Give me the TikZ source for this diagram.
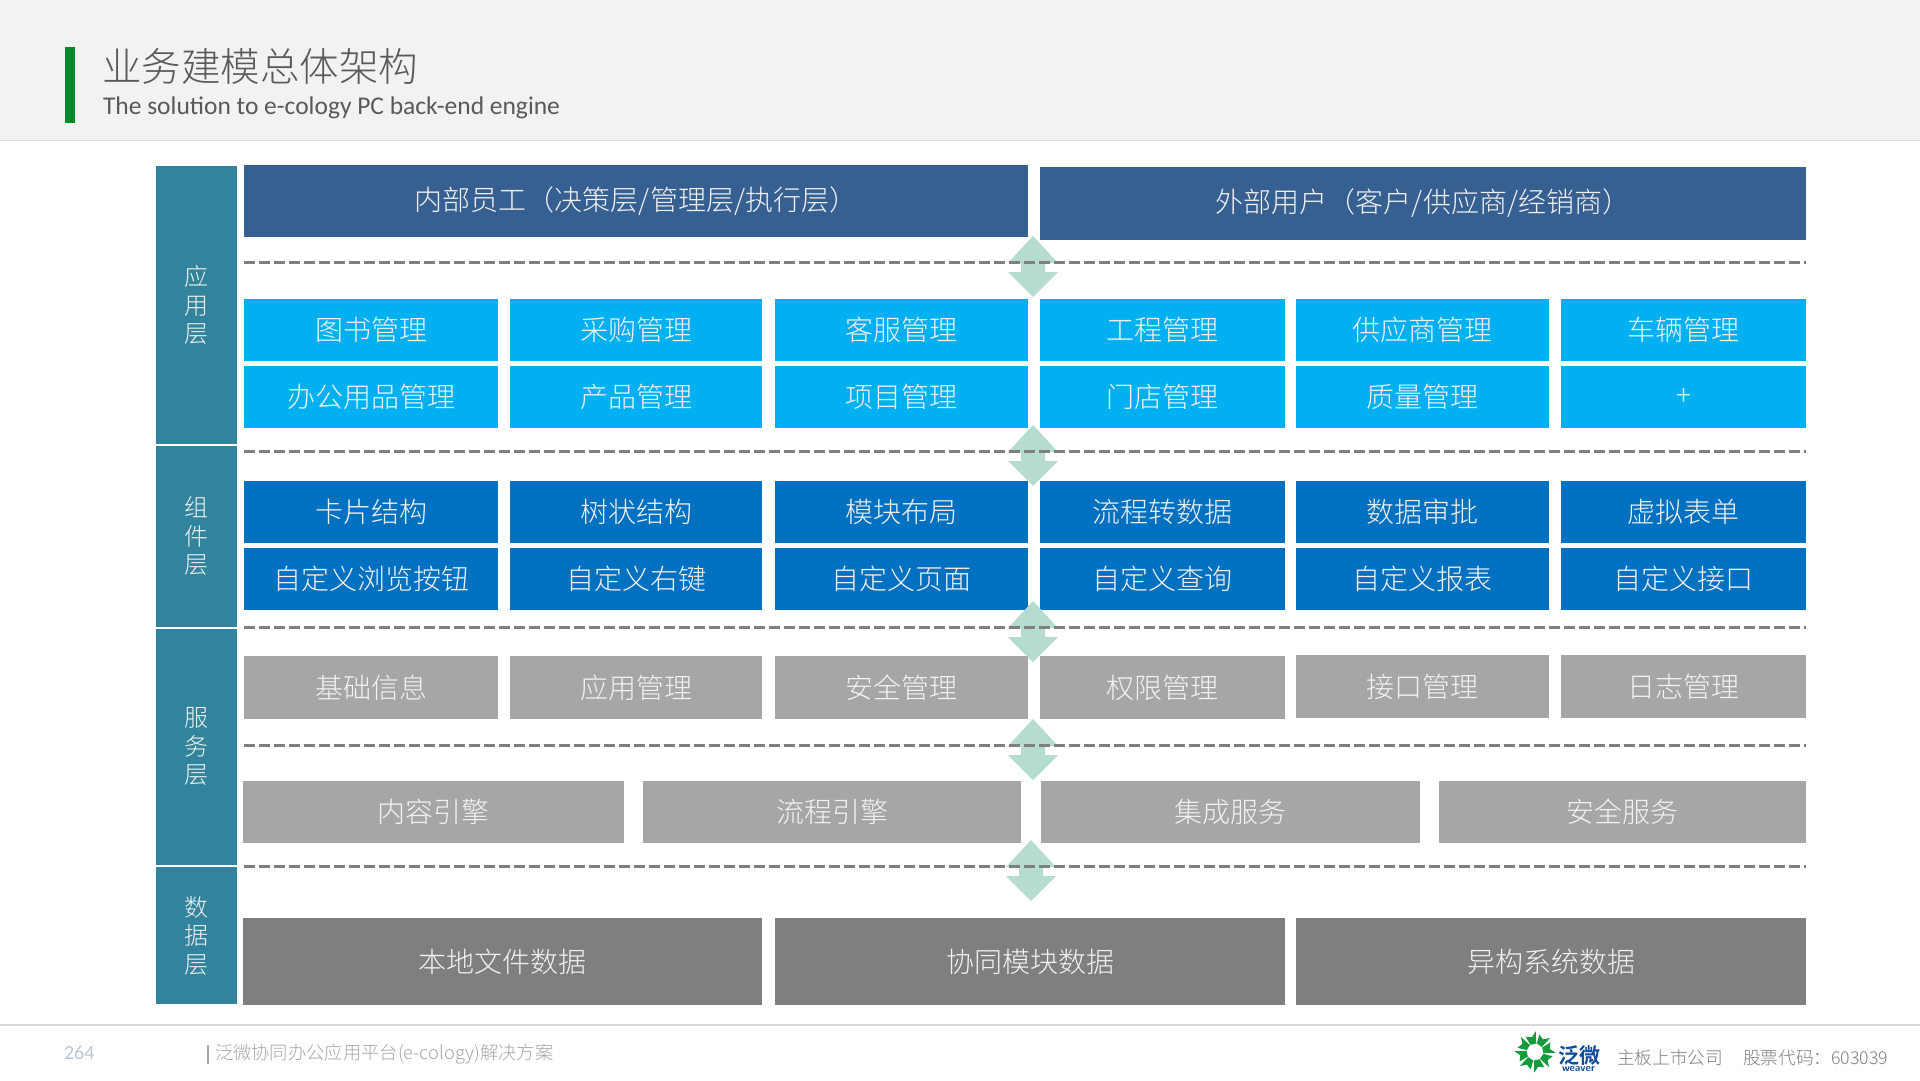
\documentclass[tikz,border=0pt]{standalone}
\usepackage{fontspec}
\setmainfont{Carlito}
\newfontfamily\cjk{Noto Sans CJK SC Light}
\newfontfamily\cjkb{Noto Sans CJK SC Bold}
\definecolor{sidec}{HTML}{31849B}
\definecolor{topc}{HTML}{376092}
\definecolor{appc}{HTML}{00B0F0}
\definecolor{compc}{HTML}{0070C0}
\definecolor{svcc}{HTML}{A6A6A6}
\definecolor{datac}{HTML}{7F7F7F}
\definecolor{arrc}{HTML}{B6DCD1}
\definecolor{headc}{HTML}{F2F2F2}
\definecolor{rulec}{HTML}{D9D9D9}
\definecolor{barc}{HTML}{00882B}
\definecolor{titlec}{HTML}{595959}
\definecolor{logog}{HTML}{149B3C}
\definecolor{logob}{HTML}{0F4C9C}
\tikzset{
  cell/.style={rectangle,inner sep=0pt,outer sep=0pt,text=white!95!black,font=\cjk\fontsize{28}{34}\selectfont,align=center},
  sidecell/.style={cell,fill=sidec,font=\cjk\fontsize{24}{28.5}\selectfont},
  topcell/.style={cell,fill=topc},
  appcell/.style={cell,fill=appc},
  compcell/.style={cell,fill=compc},
  svccell/.style={cell,fill=svcc},
  datacell/.style={cell,fill=datac},
  sep/.style={datac,line width=3pt,dash pattern=on 11pt off 4pt},
  label/.style={inner sep=0pt,outer sep=0pt,anchor=west},
}
% name, x1, y1, x2, y2, style, text
\newcommand{\bx}[7]{%
  \pgfmathsetmacro{\bw}{#4-#2}\pgfmathsetmacro{\bh}{#5-#3}%
  \pgfmathsetmacro{\bcx}{(#2+#4)/2}\pgfmathsetmacro{\bcy}{(#3+#5)/2}%
  \node[#6,minimum width=\bw pt,minimum height=\bh pt] (#1) at (\bcx,\bcy) {#7};}
% double arrow: centre x, dash y
\newcommand{\dbl}[2]{%
  \fill[arrc] (#1,#2-26) -- (#1+25,#2+1) -- (#1+12,#2+1) -- (#1+12,#2+10) -- (#1+25,#2+10)
    -- (#1,#2+35) -- (#1-25,#2+10) -- (#1-12,#2+10) -- (#1-12,#2+1) -- (#1-25,#2+1) -- cycle;}
\begin{document}
\begin{tikzpicture}[x=1pt,y=-1pt]
\useasboundingbox (0,0) rectangle (1920,1080);
\fill[white] (0,0) rectangle (1920,1080);
\fill[headc] (0,0) rectangle (1920,140);
\draw[rulec,line width=1.5pt] (0,140.5) -- (1920,140.5);
\draw[rulec,line width=1.5pt] (0,1025) -- (1920,1025);
\fill[barc] (65,47) rectangle (75,123);
\node[label,text=titlec,font=\cjk\fontsize{39.5}{44}\selectfont] (title) at (102,66) {业务建模总体架构};
\node[label,text=titlec,font=\fontsize{25.5}{30}\selectfont] (sub) at (103,108) {The solution to e-cology PC back-end engine};

\bx{s1}{156}{166}{237}{444}{sidecell}{应\\用\\层}
\bx{s2}{156}{446}{237}{627}{sidecell}{组\\件\\层}
\bx{s3}{156}{628.5}{237}{865}{sidecell}{服\\务\\层}
\bx{s4}{156}{867}{237}{1004}{sidecell}{数\\据\\层}

\bx{t1}{244}{165}{1028}{237}{topcell}{内部员工（决策层/管理层/执行层）}
\bx{t2}{1040}{167}{1806}{240}{topcell}{外部用户（客户/供应商/经销商）}

\bx{a1}{244}{299}{498}{361}{appcell}{图书管理}
\bx{a2}{510}{299}{762}{361}{appcell}{采购管理}
\bx{a3}{775}{299}{1028}{361}{appcell}{客服管理}
\bx{a4}{1040}{299}{1285}{361}{appcell}{工程管理}
\bx{a5}{1296}{299}{1549}{361}{appcell}{供应商管理}
\bx{a6}{1561}{299}{1806}{361}{appcell}{车辆管理}
\bx{b1}{244}{366}{498}{428}{appcell}{办公用品管理}
\bx{b2}{510}{366}{762}{428}{appcell}{产品管理}
\bx{b3}{775}{366}{1028}{428}{appcell}{项目管理}
\bx{b4}{1040}{366}{1285}{428}{appcell}{门店管理}
\bx{b5}{1296}{366}{1549}{428}{appcell}{质量管理}
\bx{b6}{1561}{366}{1806}{428}{appcell}{+}

\bx{c1}{244}{481}{498}{543}{compcell}{卡片结构}
\bx{c2}{510}{481}{762}{543}{compcell}{树状结构}
\bx{c3}{775}{481}{1028}{543}{compcell}{模块布局}
\bx{c4}{1040}{481}{1285}{543}{compcell}{流程转数据}
\bx{c5}{1296}{481}{1549}{543}{compcell}{数据审批}
\bx{c6}{1561}{481}{1806}{543}{compcell}{虚拟表单}
\bx{d1}{244}{548}{498}{610}{compcell}{自定义浏览按钮}
\bx{d2}{510}{548}{762}{610}{compcell}{自定义右键}
\bx{d3}{775}{548}{1028}{610}{compcell}{自定义页面}
\bx{d4}{1040}{548}{1285}{610}{compcell}{自定义查询}
\bx{d5}{1296}{548}{1549}{610}{compcell}{自定义报表}
\bx{d6}{1561}{548}{1806}{610}{compcell}{自定义接口}

\bx{e1}{244}{656}{498}{719}{svccell}{基础信息}
\bx{e2}{510}{656}{762}{719}{svccell}{应用管理}
\bx{e3}{775}{656}{1028}{719}{svccell}{安全管理}
\bx{e4}{1040}{656}{1285}{719}{svccell}{权限管理}
\bx{e5}{1296}{655}{1549}{718}{svccell}{接口管理}
\bx{e6}{1561}{655}{1806}{718}{svccell}{日志管理}

\bx{f1}{243}{781}{624}{843}{svccell}{内容引擎}
\bx{f2}{643}{781}{1021}{843}{svccell}{流程引擎}
\bx{f3}{1041}{781}{1420}{843}{svccell}{集成服务}
\bx{f4}{1439}{781}{1806}{843}{svccell}{安全服务}

\bx{g1}{243}{918}{762}{1005}{datacell}{本地文件数据}
\bx{g2}{775}{918}{1285}{1005}{datacell}{协同模块数据}
\bx{g3}{1296}{918}{1806}{1005}{datacell}{异构系统数据}

\dbl{1033}{262}
\dbl{1033}{451}
\dbl{1033}{627}
\dbl{1033}{745}
\dbl{1031}{866}

\coordinate (l1) at (244,262); \coordinate (r1) at (1806,262);
\coordinate (l2) at (244,451); \coordinate (r2) at (1806,451);
\coordinate (l3) at (244,627.5); \coordinate (r3) at (1806,627.5);
\coordinate (l4) at (244,745); \coordinate (r4) at (1806,745);
\coordinate (l5) at (244,866.5); \coordinate (r5) at (1806,866.5);
\draw[sep] (l1) -- (r1);
\draw[sep] (l2) -- (r2);
\draw[sep] (l3) -- (r3);
\draw[sep] (l4) -- (r4);
\draw[sep] (l5) -- (r5);

% footer
\node[label,text=black!25!blue!25!white,font=\fontsize{20}{24}\selectfont,text=topc!35!white] (pg) at (64,1053) {264};
\fill[svcc] (207,1045) rectangle (209,1064);
\node[label,text=svcc,font=\cjk\fontsize{18.3}{22}\selectfont] (foot) at (215,1054) {泛微协同办公应用平台(e-cology)解决方案};
\node[label,text=datac,font=\cjk\fontsize{17.7}{22}\selectfont] (mb) at (1617,1058) {主板上市公司};
\node[label,text=datac,font=\cjk\fontsize{17.7}{22}\selectfont] (code) at (1743,1058) {股票代码：603039};

% logo
\foreach \a in {0,45,...,315}{
  \fill[logog,rotate around={\a+12:(1535,1052)}] (1535,1052)+(-3,-8) -- +(3,-8) -- +(5,-20) -- +(0,-15) -- +(-6,-17) -- cycle;
}
\node[inner sep=0pt,outer sep=0pt,text=logob,font=\cjkb\fontsize{21}{24}\selectfont] (lg) at (1579,1056) {泛微};
\node[inner sep=0pt,outer sep=0pt,text=logob,font=\sffamily\bfseries\fontsize{10.5}{12}\selectfont] (lw) at (1578.5,1069) {weaver};
\end{tikzpicture}
\end{document}
